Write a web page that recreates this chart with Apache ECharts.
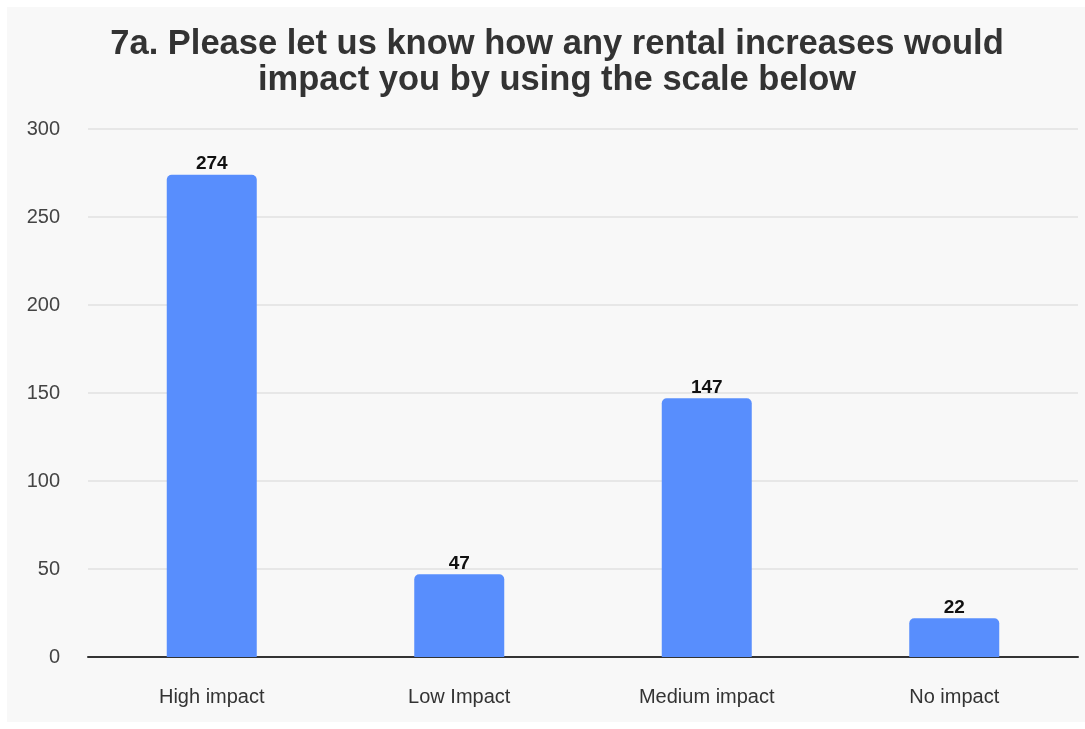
<!DOCTYPE html>
<html>
<head>
<meta charset="utf-8">
<script src="https://cdn.jsdelivr.net/npm/echarts@6/dist/echarts.min.js"></script>
<style>
  html, body { margin: 0; padding: 0; background: #ffffff; }
  #panel { position: absolute; left: 7px; top: 7px; width: 1078px; height: 715px; background: #f8f8f8; }
</style>
</head>
<body>
<div id="panel"></div>
<script>
// Survey responses: impact of rental increases
const categories = ['High impact', 'Low Impact', 'Medium impact', 'No impact'];
const responses = [274, 47, 147, 22];
const yTicks = { min: 0, max: 300, interval: 50 };

const chart = echarts.init(document.getElementById('panel'), null, { renderer: 'canvas' });

chart.setOption({
  backgroundColor: '#f8f8f8',
  title: {
    text: '7a. Please let us know how any rental increases would\nimpact you by using the scale below',
    left: 545,
    top: 14,
    textAlign: 'center',
    textStyle: {
      fontFamily: 'Liberation Sans, Arial, sans-serif',
      fontSize: 34.5,
      fontWeight: 'bold',
      color: '#333333',
      lineHeight: 36
    }
  },
  grid: { left: 81, right: 7, top: 122, bottom: 65, containLabel: false },
  xAxis: {
    type: 'category',
    data: categories,
    axisTick: { show: false },
    axisLine: { lineStyle: { color: '#333333', width: 2 } },
    axisLabel: {
      margin: 30,
      fontFamily: 'Liberation Sans, Arial, sans-serif',
      fontSize: 20,
      color: '#333333'
    }
  },
  yAxis: {
    type: 'value',
    min: yTicks.min,
    max: yTicks.max,
    interval: yTicks.interval,
    axisLine: { show: false },
    axisTick: { show: false },
    splitLine: { lineStyle: { color: '#e2e2e2', width: 1.5 } },
    axisLabel: {
      margin: 28,
      fontFamily: 'Liberation Sans, Arial, sans-serif',
      fontSize: 20,
      color: '#444444'
    }
  },
  series: [{
    type: 'bar',
    data: responses,
    barWidth: 90,
    itemStyle: { color: '#588efd', borderRadius: [5, 5, 0, 0] },
    label: {
      show: true,
      position: 'top',
      distance: 1,
      fontFamily: 'Liberation Sans, Arial, sans-serif',
      fontSize: 19,
      fontWeight: 'bold',
      color: '#111111'
    }
  }]
});
</script>
</body>
</html>
